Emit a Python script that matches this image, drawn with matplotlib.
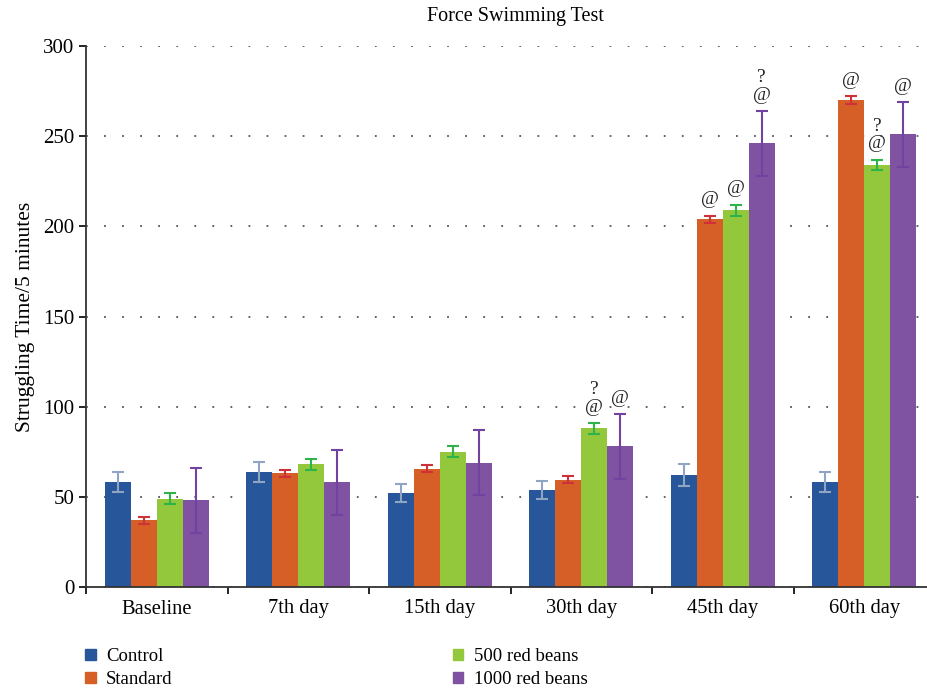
import numpy as np
import matplotlib
matplotlib.use('Agg')
import matplotlib.pyplot as plt

# Struggling time per group and time point
days = ['Baseline', '7th day', '15th day', '30th day', '45th day', '60th day']
groups = ['Control', 'Standard', '500 red beans', '1000 red beans']

control = [58, 64, 52, 54, 62, 58]
standard = [37, 63, 65.5, 59.5, 204, 270]
beans_500 = [49, 68, 75, 88, 209, 234]
beans_1000 = [48, 58, 69, 78, 246, 251]

control_err = [5.5, 5.5, 5, 5, 6, 5.5]
standard_err = [2, 2, 2, 2, 2, 2]
beans_500_err = [3, 3, 3, 3, 3, 3]
beans_1000_err = [18, 18, 18, 18, 18, 18]

# significance marks per group: (day index, text)
marks_standard = [(4, '@'), (5, '@')]
marks_500 = [(3, '?\n@'), (4, '@'), (5, '?\n@')]
marks_1000 = [(3, '@'), (4, '?\n@'), (5, '@')]

bar_colors = ['#27579A', '#D55F27', '#93C83C', '#8052A2']
err_colors = ['#8FA5C3', '#D0303A', '#2DB34A', '#7242A0']

plt.rcParams['font.family'] = ['Liberation Serif', 'DejaVu Serif']

fig = plt.figure(figsize=(9.27, 6.9), dpi=100)
ax = fig.add_axes([86 / 927, 103 / 690, 841 / 927, 541 / 690])

values = [control, standard, beans_500, beans_1000]
errors = [control_err, standard_err, beans_500_err, beans_1000_err]
marks = [[], marks_standard, marks_500, marks_1000]

x = np.arange(len(days)) + 0.5
w = 0.184
for i, (vals, errs) in enumerate(zip(values, errors)):
    pos = x + (i - 1.5) * w
    ax.bar(pos, vals, width=w, color=bar_colors[i], zorder=2, label=groups[i])
    ax.errorbar(pos, vals, yerr=errs, fmt='none', ecolor=err_colors[i],
                elinewidth=1.5, capsize=4, capthick=1.5, zorder=3)
    for d, txt in marks[i]:
        ax.text(pos[d], vals[d] + errs[d] + 4, txt, ha='center', va='bottom',
                fontsize=14, linespacing=1.05, color='#222222', zorder=4)

ax.set_yticks(range(0, 301, 50))
ax.yaxis.grid(True, linestyle=(0, (1, 9)), color='#555555', linewidth=1.3, zorder=0)
ax.set_axisbelow(True)

ax.set_xticks(np.arange(0, 6))
ax.set_xticklabels([])
ax.set_xticks(x, minor=True)
ax.set_xticklabels(days, minor=True, fontsize=14.8)
ax.tick_params(axis='x', which='minor', length=0, pad=9)
ax.tick_params(axis='x', which='major', length=5, width=1.2, direction='out')
ax.tick_params(axis='y', length=5, width=1.2, direction='out', labelsize=15)
ax.set_xlim(0, 841 / 141.5)
ax.set_ylim(0, 300)

for s in ['top', 'right']:
    ax.spines[s].set_visible(False)
for s in ['left', 'bottom']:
    ax.spines[s].set_linewidth(1.3)
    ax.spines[s].set_color('#333333')

ax.set_ylabel('Struggling Time/5 minutes', fontsize=15.5, labelpad=6)
fig.text(515 / 927, 1 - 17 / 690, 'Force Swimming Test', ha='center', va='center', fontsize=14.5)

handles = [plt.Rectangle((0, 0), 1, 1, color=c) for c in bar_colors]
fig.legend(handles, groups,
           ncol=2, loc='lower left', bbox_to_anchor=(68 / 927, -0.022),
           frameon=False, fontsize=13.5, handlelength=0.57, handleheight=0.57,
           handletextpad=0.55, columnspacing=14.95, labelspacing=0.33)

fig.savefig('out.png', dpi=100)
